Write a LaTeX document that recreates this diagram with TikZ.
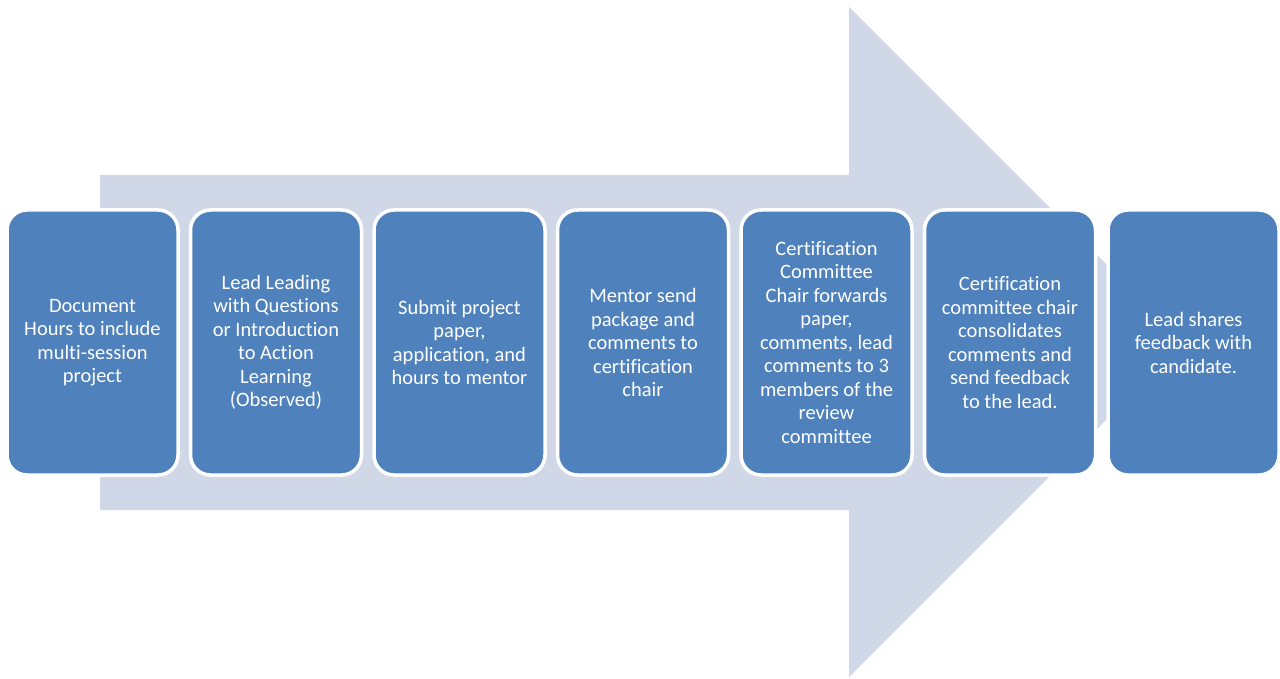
\documentclass[tikz,border=0pt]{standalone}
\usepackage{fontspec}
\setmainfont{Carlito}[Ligatures={NoCommon}]
\definecolor{boxblue}{HTML}{4F81BD}
\definecolor{arrowgray}{HTML}{D0D8E8}
\begin{document}
\begin{tikzpicture}[x=1pt,y=-1pt,
  stepbox/.style={rectangle, rounded corners=20pt, minimum width=171pt, minimum height=265pt,
    fill=boxblue, draw=white, line width=3.5pt, text=white, align=center,
    font=\fontsize{20.5}{23.5}\selectfont, inner sep=0pt}]
\useasboundingbox (0,0) rectangle (1280,679);
\fill[arrowgray] (100,175) -- (849,175) -- (849,7) -- (1184,342) -- (849,677) -- (849,510) -- (100,510) -- cycle;
\node[stepbox] (s1) at (92.5,342.5) {Document\\Hours to include\\multi-session\\project};
\node[stepbox] (s2) at (276,342.5) {Lead Leading\\with Questions\\or Introduction\\to Action\\Learning\\(Observed)};
\node[stepbox] (s3) at (459.5,342.5) {Submit project\\paper,\\application, and\\hours to mentor};
\node[stepbox] (s4) at (643,342.5) {Mentor send\\package and\\comments to\\certification\\chair};
\node[stepbox] (s5) at (826.5,342.5) {Certification\\Committee\\Chair forwards\\paper,\\comments, lead\\comments to 3\\members of the\\review\\committee};
\node[stepbox] (s6) at (1010,342.5) {Certification\\committee chair\\consolidates\\comments and\\send feedback\\to the lead.};
\node[stepbox] (s7) at (1193.5,342.5) {Lead shares\\feedback with\\candidate.};
\end{tikzpicture}
\end{document}
